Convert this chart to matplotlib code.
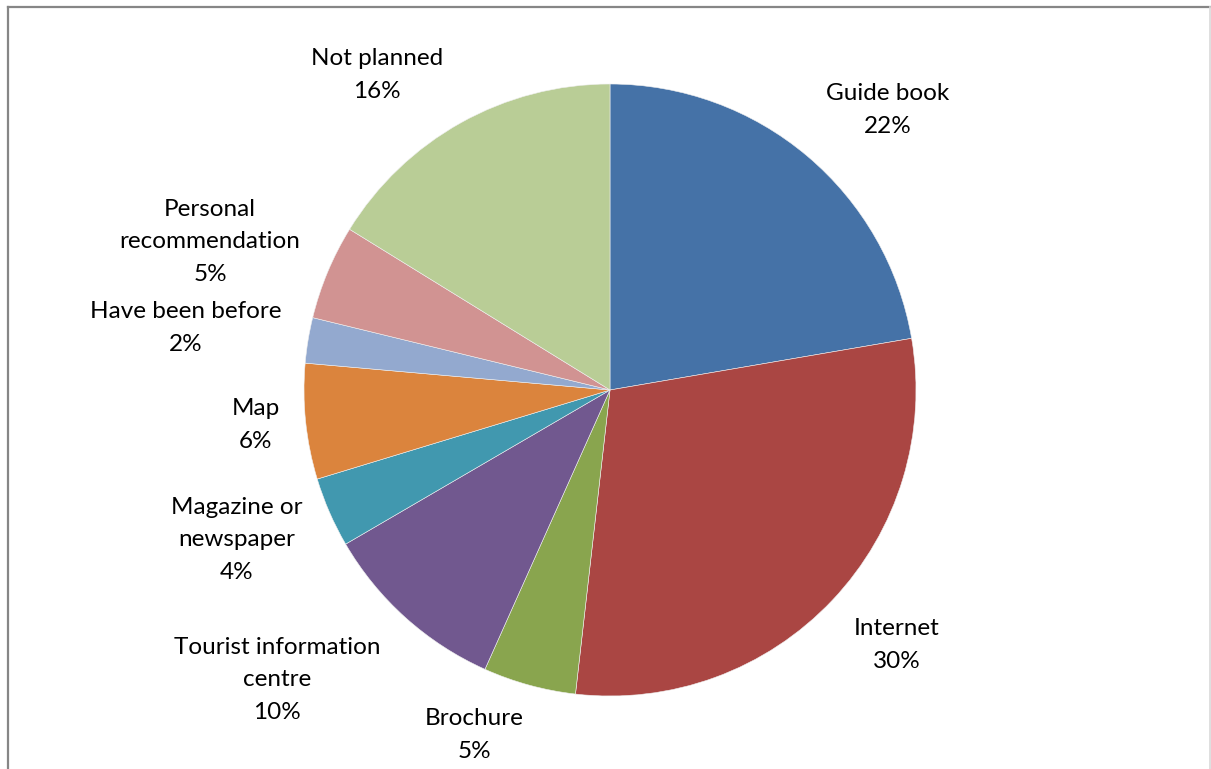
import matplotlib.pyplot as plt
from matplotlib.lines import Line2D

# data (percent of respondents)
sources = ['Guide book', 'Internet', 'Brochure', 'Tourist information\ncentre',
           'Magazine or\nnewspaper', 'Map', 'Have been before',
           'Personal\nrecommendation', 'Not planned']
shares = [22.3, 29.5, 4.9, 9.9, 3.7, 6.1, 2.4, 5.0, 16.2]
colors = ['#4572A7', '#AA4643', '#89A54E', '#71588F', '#4198AF',
          '#DB843D', '#93A9CF', '#D19392', '#B9CD96']

# label centres in pixel coords (x, y from top), as placed in the original
label_pos = [(888, 110), (897, 645), (474, 735), (277, 680), (237, 540),
             (256, 425), (186, 328), (210, 242), (377, 75)]

W, H = 1211, 769
fig = plt.figure(figsize=(W / 100, H / 100), dpi=100)
ax = fig.add_axes([0, 0, 1, 1])

# pie, clockwise from 12 o'clock
ax.pie(shares, colors=colors, startangle=90, counterclock=False,
       center=(610, H - 390), radius=306, frame=True,
       wedgeprops=dict(edgecolor='#f0f0f0', linewidth=0.4))
ax.set_xlim(0, W)
ax.set_ylim(0, H)
ax.set_aspect('equal')
ax.axis('off')

for name, v, (x, y) in zip(sources, shares, label_pos):
    ax.text(x, H - y, f"{name}\n{v:.0f}%", ha='center', va='center',
            fontsize=17.5, family=['Lato', 'DejaVu Sans'], color='#000000',
            linespacing=1.65)

# chart area border (left/top dark, right light)
fig.add_artist(Line2D([7.5 / W, 7.5 / W], [0, 1 - 7 / H], transform=fig.transFigure,
                      color='#868686', lw=1.6))
fig.add_artist(Line2D([7.5 / W, 1], [1 - 7 / H, 1 - 7 / H], transform=fig.transFigure,
                      color='#868686', lw=1.6))
fig.add_artist(Line2D([1 - 1.5 / W, 1 - 1.5 / W], [0, 1 - 7 / H], transform=fig.transFigure,
                      color='#d9d9d9', lw=1.2))

fig.savefig('out.png', dpi=100, facecolor='white')
